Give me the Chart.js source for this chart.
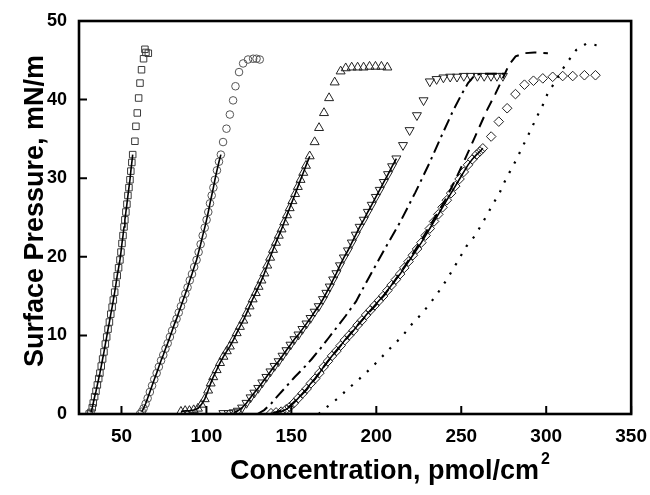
<!DOCTYPE html>
<html lang="en">

<head>
    <meta charset="UTF-8">
    <title>Surface Pressure vs Concentration</title>
    <script src="https://cdn.jsdelivr.net/npm/chart.js"></script>
    <style>
        body { margin: 0; background: #fff; }
        #wrap { width: 650px; height: 495px; }
    </style>
</head>

<body>
    <div id="wrap">
        <canvas id="isoterma" width="650" height="495"></canvas>
    </div>

    <script>
        // tick labels
        const xTicks = [50, 100, 150, 200, 250, 300, 350];
        const yTicks = [0, 10, 20, 30, 40, 50];

        // measured points [concentration, pressure]
        const squares = [[31.0, 0], [32.0, 0.2], [32.8, 0.8], [33.4, 1.4], [34.2, 2.2], [35.0, 2.9], [35.8, 3.7], [36.6, 4.5], [37.3, 5.2], [38.1, 6.1], [38.9, 7.0], [39.7, 7.9], [40.5, 8.9], [41.3, 9.8], [42.1, 10.8], [42.9, 11.7], [43.7, 12.7], [44.5, 13.6], [45.2, 14.5], [46.0, 15.5], [46.8, 16.6], [47.5, 17.6], [48.3, 18.6], [49.1, 19.6], [49.7, 20.6], [50.3, 21.7], [50.9, 22.7], [51.5, 23.8], [52.0, 24.7], [52.6, 25.7], [53.2, 26.7], [53.8, 27.8], [54.4, 28.8], [55.0, 29.8], [55.5, 30.9], [56.1, 32.0], [56.6, 33.0], [57.9, 34.7], [58.5, 36.6], [59.3, 38.3], [60.1, 40.2], [60.9, 42.1], [61.8, 43.8], [63.0, 45.2], [63.8, 46.4], [64.4, 46.0], [65.8, 45.9]];
        const circles = [[60.9, 0], [62.0, 0.3], [63.0, 0.7], [64.2, 1.3], [65.4, 2.0], [66.7, 2.8], [68.0, 3.6], [69.3, 4.4], [70.7, 5.2], [72.0, 6.0], [73.3, 6.8], [74.6, 7.5], [75.9, 8.3], [77.2, 9.0], [78.5, 9.8], [79.8, 10.6], [81.1, 11.4], [82.4, 12.1], [83.7, 12.9], [85.0, 13.7], [86.3, 14.5], [87.6, 15.3], [88.9, 16.1], [90.2, 17.0], [91.5, 17.8], [92.8, 18.7], [94.2, 19.6], [95.4, 20.6], [96.6, 21.6], [97.8, 22.7], [99.0, 23.7], [100.1, 24.7], [101.1, 25.7], [102.1, 26.8], [103.1, 27.8], [104.1, 28.8], [105.0, 29.8], [106.2, 31.0], [107.4, 32.1], [108.5, 33.0], [109.8, 34.6], [111.8, 36.3], [113.8, 38.1], [115.7, 39.9], [117.1, 41.7], [119.2, 43.5], [121.6, 44.6], [124.5, 45.1], [127.5, 45.2], [129.5, 45.2], [131.4, 45.1]];
        const upTri = [[85.0, 0.3], [87.5, 0.4], [90.0, 0.4], [92.5, 0.5], [95.0, 0.7], [97.0, 1.2], [99.0, 1.9], [101.0, 3.0], [102.5, 3.9], [104.0, 4.7], [106.0, 5.6], [108.0, 6.5], [110.0, 7.3], [112.0, 8.0], [113.8, 8.6], [115.8, 9.4], [117.8, 10.3], [119.7, 11.1], [121.7, 11.9], [123.6, 12.8], [125.4, 13.7], [127.2, 14.6], [129.0, 15.4], [130.7, 16.2], [132.4, 17.0], [134.1, 17.9], [135.8, 18.9], [137.5, 19.9], [139.2, 20.9], [140.9, 21.8], [142.6, 22.7], [144.2, 23.5], [145.8, 24.4], [147.4, 25.3], [149.0, 26.2], [150.6, 27.1], [152.2, 28.0], [153.8, 28.9], [155.4, 29.8], [157.0, 30.7], [158.6, 31.6], [160.8, 32.8], [163.7, 34.6], [166.3, 36.4], [169.2, 38.3], [172.2, 40.2], [175.5, 42.2], [179.0, 43.6], [182.0, 44.0], [185.5, 44.1], [189.0, 44.1], [192.5, 44.1], [196.0, 44.2], [199.5, 44.2], [203.0, 44.2], [206.5, 44.1]];
        const downTri = [[110.0, 0.1], [113.0, 0.1], [116.0, 0.2], [118.5, 0.4], [121.0, 0.8], [123.6, 1.4], [126.0, 2.1], [128.2, 2.7], [130.5, 3.3], [132.9, 4.0], [135.3, 4.7], [137.7, 5.4], [140.1, 6.1], [142.5, 6.7], [144.8, 7.4], [147.1, 8.1], [149.5, 8.8], [151.8, 9.5], [154.2, 10.1], [156.5, 10.8], [158.9, 11.5], [161.3, 12.2], [163.7, 13.0], [166.1, 13.7], [168.6, 14.6], [170.6, 15.4], [172.6, 16.2], [174.6, 17.1], [176.5, 17.9], [178.6, 18.9], [180.9, 19.9], [183.3, 20.8], [185.6, 21.8], [187.9, 22.8], [190.2, 23.8], [192.6, 24.7], [195.0, 25.7], [197.3, 26.6], [199.7, 27.6], [202.0, 28.5], [204.4, 29.5], [206.9, 30.5], [209.3, 31.5], [211.8, 32.5], [215.7, 34.2], [219.6, 36.1], [223.9, 38.0], [227.8, 39.9], [231.5, 42.3], [235.5, 42.6], [239.5, 42.8], [243.5, 42.9], [247.5, 42.9], [251.5, 43.0], [255.5, 43.0], [259.5, 43.0], [263.5, 43.0], [267.5, 43.0], [271.0, 43.0], [274.5, 43.0]];
        const diamonds = [[138.0, 0.1], [141.0, 0.2], [144.0, 0.3], [147.0, 0.6], [149.0, 0.9], [151.5, 1.4], [154.0, 2.0], [156.5, 2.6], [159.0, 3.2], [161.5, 3.9], [164.0, 4.5], [166.5, 5.2], [169.0, 6.0], [171.5, 6.7], [174.0, 7.4], [176.5, 8.0], [179.0, 8.7], [181.5, 9.4], [184.0, 10.0], [186.5, 10.6], [189.0, 11.3], [191.5, 11.9], [194.0, 12.6], [196.5, 13.2], [199.0, 13.8], [201.5, 14.4], [204.0, 15.0], [206.5, 15.7], [209.0, 16.4], [211.5, 17.1], [214.0, 17.8], [216.5, 18.6], [219.0, 19.4], [221.5, 20.2], [224.0, 21.0], [226.5, 21.8], [229.0, 22.7], [231.5, 23.6], [234.0, 24.5], [236.5, 25.4], [239.0, 26.3], [241.5, 27.2], [244.0, 28.1], [246.5, 29.0], [249.0, 29.9], [251.5, 30.8], [254.0, 31.7], [256.5, 32.4], [259.0, 33.0], [261.0, 33.4], [262.7, 33.8], [267.6, 35.3], [272.1, 37.2], [277.0, 38.9], [281.9, 40.7], [287.2, 41.9], [292.5, 42.4], [298.0, 42.7], [303.8, 42.9], [309.7, 43.0], [315.6, 43.0], [322.5, 43.1], [329.0, 43.1]];

        // curves without markers
        const dashDot = [[130, 0], [134, 0.5], [138, 1.3], [142, 2.3], [147, 3.5], [152, 4.7], [157, 5.8], [162, 7.0], [167, 8.3], [172, 9.7], [177, 11.1], [182, 12.5], [188, 14.3], [196, 17.5], [205, 21.0], [214, 24.4], [223, 28.2], [231, 31.8], [238, 35.2], [245, 38.5], [250, 40.6], [254, 42.1], [258, 43.1], [262, 43.3], [268, 43.3], [276, 43.3]];
        const dashed = [[138, 0], [143, 0.4], [149, 1.0], [154, 2.0], [159, 3.1], [164, 4.5], [169, 6.0], [174, 7.4], [179, 8.7], [184, 10.0], [189, 11.3], [194, 12.5], [199, 13.7], [205, 15.2], [211, 17.0], [217, 18.9], [223, 20.9], [229, 23.0], [235, 25.2], [241, 27.4], [247, 30.0], [253, 32.8], [259, 35.7], [265, 38.6], [270, 40.7], [274, 42.5], [278, 44.4], [282, 45.5], [287, 45.9], [293, 46.0], [301, 45.9]];
        const dotted = [[166, 0], [171, 0.9], [177.4, 2.0], [183.9, 3.3], [190.2, 4.5], [196.7, 5.8], [203, 7.2], [209.2, 8.6], [215.3, 9.9], [220.8, 11.4], [226.5, 12.7], [231.8, 14.1], [236.5, 15.5], [241.2, 17.0], [247, 19.1], [252.9, 21.3], [257.8, 22.6], [261.7, 24.0], [265.6, 25.5], [268.9, 26.8], [272.5, 28.1], [275.4, 29.5], [278.8, 30.9], [282.3, 32.3], [285.6, 33.8], [288.6, 35.1], [291.7, 36.5], [294.7, 37.9], [298, 39.3], [300.9, 40.8], [304.8, 42.1], [308.8, 43.6], [312.6, 44.8], [317.6, 46.3], [323.5, 47.1], [330.3, 46.9]];

        // the solid fit follows each marker series up to this pressure
        const fitTop = [33.0, 33.0, 32.8, 32.5, 33.8];

        const FONTE = '"Liberation Sans", Arial, Helvetica, sans-serif';
        const pts = arr => arr.map(p => ({ x: p[0], y: p[1] }));

        const marcadores = [
            { dados: squares, estilo: 'rect', raio: 4.6, rot: 0, cor: '#3a3a3a' },
            { dados: circles, estilo: 'circle', raio: 3.8, rot: 0, cor: '#555' },
            { dados: upTri, estilo: 'triangle', raio: 5.2, rot: 0, cor: '#222' },
            { dados: downTri, estilo: 'triangle', raio: 5.2, rot: 180, cor: '#222' },
            { dados: diamonds, estilo: 'rectRot', raio: 4.8, rot: 0, cor: '#222' }
        ];

        const datasets = [];

        marcadores.forEach((m, i) => {
            datasets.push({
                data: pts(m.dados.filter(p => p[1] >= 0.2 && p[1] <= fitTop[i])),
                showLine: true,
                borderColor: '#000',
                borderWidth: 1.6,
                pointRadius: 0,
                fill: false
            });
        });

        datasets.push({ data: pts(dashDot), showLine: true, borderColor: '#000', borderWidth: 2, borderDash: [12, 5, 2.5, 5], pointRadius: 0 });
        datasets.push({ data: pts(dashed), showLine: true, borderColor: '#000', borderWidth: 2, borderDash: [11, 7], pointRadius: 0 });
        datasets.push({ data: pts(dotted), showLine: true, borderColor: '#000', borderWidth: 2.2, borderDash: [2.2, 8.5], pointRadius: 0 });

        marcadores.forEach(m => {
            datasets.push({
                data: pts(m.dados),
                showLine: false,
                pointStyle: m.estilo,
                pointRadius: m.raio,
                pointRotation: m.rot,
                pointBorderColor: m.cor,
                pointBackgroundColor: 'rgba(0,0,0,0)',
                pointBorderWidth: 1
            });
        });

        // frame, inward ticks and axis titles
        const moldura = {
            id: 'moldura',
            afterDraw(chart) {
                const { ctx, chartArea: a, scales: { x, y } } = chart;
                ctx.save();
                ctx.strokeStyle = '#000';
                ctx.lineWidth = 2.6;
                ctx.strokeRect(a.left, a.top, a.right - a.left, a.bottom - a.top);

                ctx.lineWidth = 2;
                ctx.beginPath();
                xTicks.forEach(v => {
                    const px = x.getPixelForValue(v);
                    ctx.moveTo(px, a.bottom);
                    ctx.lineTo(px, a.bottom - 8);
                });
                yTicks.forEach(v => {
                    const py = y.getPixelForValue(v);
                    ctx.moveTo(a.left, py);
                    ctx.lineTo(a.left + 8, py);
                });
                ctx.stroke();

                ctx.fillStyle = '#000';
                ctx.font = 'bold 27px ' + FONTE;
                ctx.textBaseline = 'alphabetic';
                ctx.textAlign = 'left';
                const tx = 'Concentration, pmol/cm';
                const w = ctx.measureText(tx).width;
                const x0 = 230;
                ctx.fillText(tx, x0, 479);
                ctx.font = 'bold 16px ' + FONTE;
                ctx.fillText('2', x0 + w + 2, 464);

                ctx.translate(43, 211);
                ctx.rotate(-Math.PI / 2);
                ctx.font = 'bold 27px ' + FONTE;
                ctx.textAlign = 'center';
                ctx.fillText('Surface Pressure, mN/m', 0, 0);
                ctx.restore();
            }
        };

        new Chart(document.getElementById('isoterma'), {
            type: 'scatter',
            data: { datasets },
            options: {
                responsive: false,
                animation: false,
                layout: { padding: { top: 21, right: 18, left: 0, bottom: 0 } },
                plugins: { legend: { display: false }, tooltip: { enabled: false } },
                scales: {
                    x: {
                        type: 'linear',
                        min: 25,
                        max: 350,
                        afterBuildTicks: s => { s.ticks = xTicks.map(v => ({ value: v })); },
                        afterFit: s => { s.height = 81; },
                        grid: { display: false },
                        border: { display: false },
                        ticks: { color: '#000', padding: 3, maxRotation: 0, autoSkip: false, font: { family: FONTE, size: 19, weight: 'bold' } }
                    },
                    y: {
                        min: 0,
                        max: 50,
                        afterBuildTicks: s => { s.ticks = yTicks.map(v => ({ value: v })); },
                        afterFit: s => { s.width = 79; },
                        grid: { display: false },
                        border: { display: false },
                        ticks: { color: '#000', padding: 4, font: { family: FONTE, size: 18, weight: 'bold' } }
                    }
                }
            },
            plugins: [moldura]
        });
    </script>
</body>

</html>
